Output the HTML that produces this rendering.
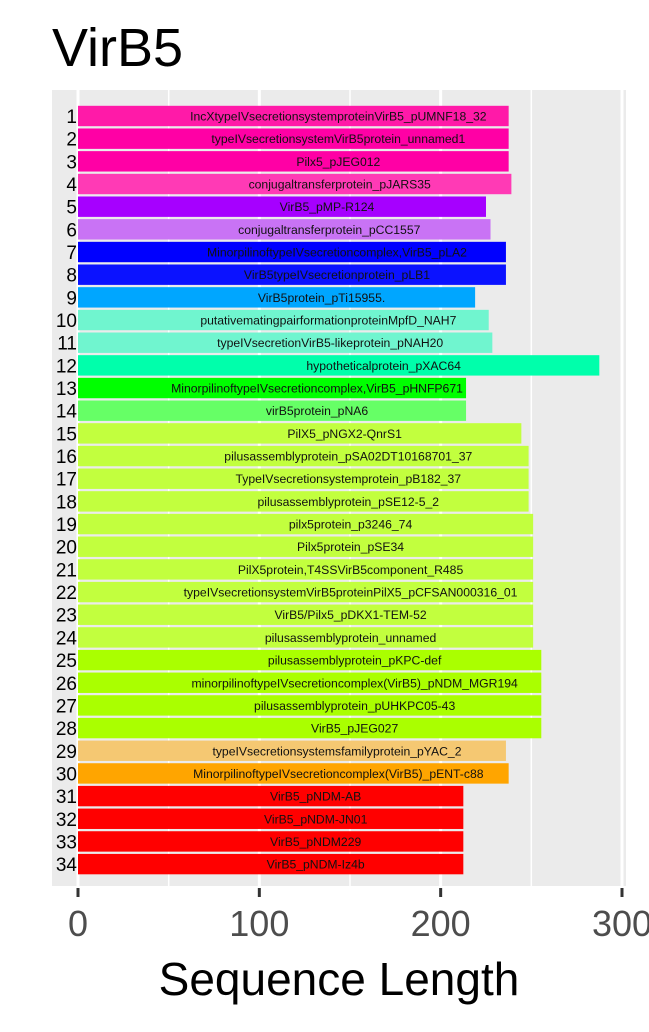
<!DOCTYPE html>
<html><head><meta charset="utf-8"><style>
body{margin:0;background:#fff;width:649px;height:1027px;overflow:hidden;font-family:"Liberation Sans",sans-serif}
</style></head><body>
<svg id="chart" width="649" height="1027" xmlns="http://www.w3.org/2000/svg" font-family="Liberation Sans, sans-serif">
<text x="52" y="66" font-size="54">VirB5</text>
<rect x="52" y="90" width="574" height="796" fill="#ebebeb"/>
<g id="grid"></g>
<g id="bars"></g>
<g id="axis"></g>
<text x="339" y="995" font-size="46" text-anchor="middle">Sequence Length</text>
</svg>
<script>
const labels=["IncXtypeIVsecretionsystemproteinVirB5_pUMNF18_32","typeIVsecretionsystemVirB5protein_unnamed1","Pilx5_pJEG012","conjugaltransferprotein_pJARS35","VirB5_pMP-R124","conjugaltransferprotein_pCC1557","MinorpilinoftypeIVsecretioncomplex,VirB5_pLA2","VirB5typeIVsecretionprotein_pLB1","VirB5protein_pTi15955.","putativematingpairformationproteinMpfD_NAH7","typeIVsecretionVirB5-likeprotein_pNAH20","hypotheticalprotein_pXAC64","MinorpilinoftypeIVsecretioncomplex,VirB5_pHNFP671","virB5protein_pNA6","PilX5_pNGX2-QnrS1","pilusassemblyprotein_pSA02DT10168701_37","TypeIVsecretionsystemprotein_pB182_37","pilusassemblyprotein_pSE12-5_2","pilx5protein_p3246_74","Pilx5protein_pSE34","PilX5protein,T4SSVirB5component_R485","typeIVsecretionsystemVirB5proteinPilX5_pCFSAN000316_01","VirB5/Pilx5_pDKX1-TEM-52","pilusassemblyprotein_unnamed","pilusassemblyprotein_pKPC-def","minorpilinoftypeIVsecretioncomplex(VirB5)_pNDM_MGR194","pilusassemblyprotein_pUHKPC05-43","VirB5_pJEG027","typeIVsecretionsystemsfamilyprotein_pYAC_2","MinorpilinoftypeIVsecretioncomplex(VirB5)_pENT-c88","VirB5_pNDM-AB","VirB5_pNDM-JN01","VirB5_pNDM229","VirB5_pNDM-Iz4b"];
const values=[237.5,237.5,237.5,239,225,227.5,236,236,219,226.5,228.5,287.5,214,214,244.5,248.5,248.5,248.5,251,251,251,251,251,251,255.5,255.5,255.5,255.5,236,237.5,212.5,212.5,212.5,212.5];
const colors=["#ff1aa8","#ff00a5","#ff00a5","#ff3ab5","#a600ff","#c973f5","#0000ff","#0b12ff","#00a6ff","#70f5cf","#70f5cf","#00ffab","#00ff00","#66ff66","#c2ff3e","#c2ff3e","#c2ff3e","#c2ff3e","#c2ff3e","#c2ff3e","#c2ff3e","#c2ff3e","#c2ff3e","#c2ff3e","#aaff00","#aaff00","#aaff00","#aaff00","#f5c872","#ffa500","#ff0000","#ff0000","#ff0000","#ff0000"];
const ticks=[0,100,200,300];
const minor=[50,150,250];
const NS="http://www.w3.org/2000/svg";
const xs=v=>78+v*1.8133;
const yc=i=>116+i*22.67;
function mk(t,a,p){const e=document.createElementNS(NS,t);for(const k in a)e.setAttribute(k,a[k]);p.appendChild(e);return e;}
const g=document.getElementById('grid'),b=document.getElementById('bars'),ax=document.getElementById('axis');
minor.forEach(v=>{const l=mk('line',{x1:xs(v),x2:xs(v),y1:90,y2:886,stroke:'#fff','stroke-width':1.5},g);

});
ticks.forEach(v=>{const l=mk('line',{x1:xs(v),x2:xs(v),y1:90,y2:886,stroke:'#fff','stroke-width':3},g);


const t=mk('line',{x1:xs(v),x2:xs(v),y1:888,y2:897,stroke:'#333','stroke-width':3},ax);


const tl=mk('text',{x:xs(v),y:936,'font-size':36,fill:'#4d4d4d','text-anchor':'middle'},ax);tl.textContent=v;

});
values.forEach((v,i)=>{const r=mk('rect',{x:xs(0),y:yc(i)-10.2,width:xs(v)-xs(0),height:20.4,fill:colors[i]},b);


const t=mk('text',{x:(xs(0)+xs(v))/2+45,y:yc(i)+4.5,'font-size':12.2,'text-anchor':'middle',fill:'#111'},b);t.textContent=labels[i];


const n=mk('text',{x:77,y:yc(i)+7,'font-size':19,'text-anchor':'end',fill:'#000'},b);n.textContent=i+1;

});
</script>
</body></html>
